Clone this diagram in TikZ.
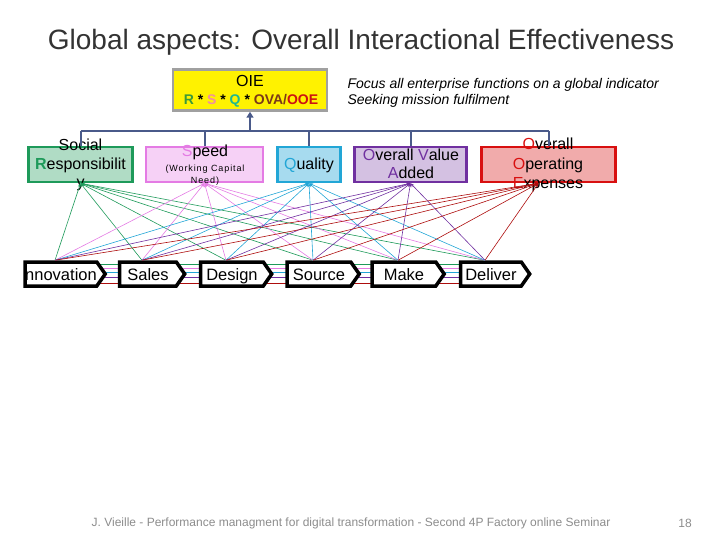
\documentclass[tikz,border=0pt]{standalone}
\usepackage{fontspec}
\setmainfont{Liberation Sans}
\usetikzlibrary{arrows.meta,shapes.symbols,backgrounds}
\definecolor{respc}{HTML}{1E9A5A}
\definecolor{speedc}{HTML}{E47BE4}
\definecolor{qualc}{HTML}{22A6D6}
\definecolor{ovac}{HTML}{7030A0}
\definecolor{ooec}{HTML}{D81010}
\definecolor{ooeline}{HTML}{AD0D0D}
\definecolor{busc}{HTML}{4A5A8A}
\definecolor{oiegray}{HTML}{A0A0A0}
\tikzset{
  kpi/.style={draw, line width=2.5pt, inner sep=0pt, minimum height=35pt},
  stage/.style={signal, signal to=east, signal pointer angle=110, draw=black,
    line width=3.5pt, fill=white, minimum height=24pt, inner sep=0pt,
    text height=13pt, text depth=0pt, font=\fontsize{16.5}{18}\selectfont},
  bus/.style={busc, line width=2pt},
  link/.style={line width=0.6pt, -{Stealth[length=4pt,width=3pt]}}
}
\begin{document}
\begin{tikzpicture}[x=1pt,y=-1pt]
\useasboundingbox (0,0) rectangle (720,540);
\node[font=\fontsize{28}{32}\selectfont, text=black!80] (title) at (361,42) {Global aspects: Overall Interactional Effectiveness};

\node[kpi, fill=yellow, draw=oiegray, minimum width=154pt, minimum height=41pt] (oie) at (250,90) {};
\node[font=\fontsize{16}{18}\selectfont] (oietxt) at (250,81) {OIE};
\node[font=\fontsize{14}{16}\selectfont\bfseries] (oieform) at (251,101)
  {\textcolor[HTML]{3A9A3A}{R} * \textcolor[HTML]{F090A0}{S} * \textcolor[HTML]{20B890}{Q} * \textcolor[HTML]{7A3A18}{OVA/}\textcolor[HTML]{CC1111}{OOE}};
\node[anchor=west, font=\fontsize{14}{16}\selectfont\itshape] (focus) at (344,85) {Focus all enterprise functions on a global indicator};
\node[anchor=west, font=\fontsize{14}{16}\selectfont\itshape] (seek) at (344,101) {Seeking mission fulfilment};

\node[kpi, fill=respc!35, draw=respc, minimum width=104pt] (soc) at (80.5,164.5) {};
\node[kpi, fill=speedc!35, draw=speedc, minimum width=117pt] (spd) at (204.5,164.5) {};
\node[kpi, fill=qualc!40, draw=qualc, minimum width=63pt] (qua) at (309,164.5) {};
\node[kpi, fill=ovac!30, draw=ovac, minimum width=112pt] (ova) at (410.5,164.5) {};
\node[kpi, fill=ooec!35, draw=ooec, minimum width=134pt] (ooe) at (548.5,164.5) {};

\node[align=center, font=\fontsize{16}{18.5}\selectfont] (soctxt) at (80.5,165)
  {Social\\\textcolor{respc}{\bfseries R}esponsibilit\\y};
\node[font=\fontsize{16}{18}\selectfont] (spdtxt) at (205,152) {\textcolor{speedc}{S}peed};
\node[align=center, font=\fontsize{9}{12}\selectfont\addfontfeatures{LetterSpace=10}] (spdsub) at (205,175) {(Working Capital\\Need)};
\node[font=\fontsize{16}{18}\selectfont] (quatxt) at (309,165) {\textcolor{qualc}{Q}uality};
\node[align=center, font=\fontsize{16}{18.5}\selectfont] (ovatxt) at (411,164)
  {\textcolor{ovac}{O}verall \textcolor{ovac}{V}alue\\\textcolor{ovac}{A}dded};
\node[align=center, font=\fontsize{16}{19.5}\selectfont] (ooetxt) at (548,165)
  {\textcolor{ooec}{O}verall\\\textcolor{ooec}{O}perating\\\textcolor{ooec}{E}xpenses};

\coordinate (hub) at (250,131);
\draw[bus] (soc.north |- hub) -- (ooe.north |- hub);
\foreach \k in {soc,spd,qua,ova,ooe}
  \draw[bus] (\k.north |- hub) -- (\k.north);
\draw[bus,-{Triangle[length=6pt,width=7pt]}] (hub) -- (oie.south);

\foreach \n/\x/\w/\t in {inn/61/80/nnovation, sal/148/65/Sales, des/232/71/Design,
    src/319/72/Source, mak/404/72/Make, del/491/69/Deliver}
  \node[stage, minimum width=\w pt] (\n) at (\x,274) {\t};

\begin{scope}[on background layer]
\foreach \c/\y in {respc/264, speedc/268, qualc/272, ovac/277, ooeline/283}
  \draw[\c, line width=0.6pt] (inn.center |- 0,\y) -- (del.center |- 0,\y);
\end{scope}

\foreach \k/\c/\dx in {soc/respc/0, spd/speedc/0, qua/qualc/0, ova/ovac/0, ooe/ooeline/-10}
  \foreach \s in {inn,sal,des,src,mak,del}
    \draw[link, \c] ([xshift=-6pt]\s.north) -- ([xshift=\dx pt]\k.south);

\node[font=\fontsize{12}{14}\selectfont, text=black!45] (foot) at (351,523)
  {J. Vieille - Performance managment for digital transformation - Second 4P Factory online Seminar};
\node[font=\fontsize{12}{14}\selectfont, text=black!45] (page) at (685,523) {18};
\end{tikzpicture}
\end{document}
